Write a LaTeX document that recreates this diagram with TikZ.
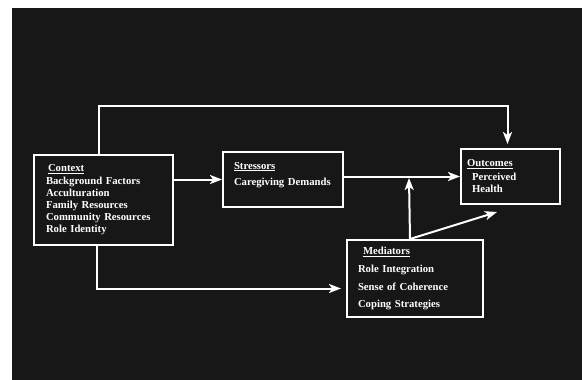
\documentclass[tikz,border=0pt]{standalone}
\usepackage{fontspec}
\setmainfont{Liberation Serif}
\usepackage{tikz}
\usetikzlibrary{arrows.meta,positioning}

\begin{document}
\begin{tikzpicture}[
  x=1pt, y=-1pt,
  box/.style={rectangle, draw=white, line width=2pt, anchor=north west, align=left,
    text=white, inner xsep=0pt, inner ysep=0pt, font=\fontsize{10.7}{12}\selectfont\bfseries},
  arr/.style={-{Stealth[length=12pt, width=9pt, inset=3pt]}, draw=white, line width=2pt},
  loop/.style={arr, rounded corners=0pt}
]
\useasboundingbox (0,0) rectangle (582,380);
\fill[white] (0,0) rectangle (582,380);
\fill[black!91] (12,8) rectangle (582,380);

% boxes
\node[box, text width=115pt, minimum height=90pt, inner xsep=12pt] at (33,154) (ctx)
  {\hspace*{2pt}\underline{Context}\\[1pt]
   Background Factors\\ Acculturation\\ Family Resources\\ Community Resources\\ Role Identity};
\node[box, text width=98pt, minimum height=55pt, inner xsep=11pt] at (222,151) (str)
  {\underline{Stressors}\\[4pt] Caregiving Demands\\ \mbox{}};
\node[box, text width=87pt, minimum height=55pt, inner xsep=6pt] at (460,148) (out)
  {\underline{Outcomes}\\[2pt] \hspace*{5pt}Perceived\\ \hspace*{5pt}Health};
\node[box, text width=114pt, minimum height=77pt, inner xsep=11pt] at (346,239) (med)
  {\hspace*{5pt}\underline{Mediators}\\[6pt] Role Integration\\[5.5pt] Sense of Coherence\\[5.5pt] Coping Strategies};

% free ends
\coordinate (medtop) at ([xshift=-5pt]med.north);
\coordinate (join) at (409,178);
\coordinate (diagtip) at (497,212);

% connectors
\draw[arr] (ctx.east |- str.west) -- (str.west);
\draw[arr] (str.east |- out.west) -- (out.west);
\draw[arr] (medtop) -- (join);
\draw[arr] (medtop) -- (diagtip);
\draw[loop, shorten >=4pt] ([xshift=-5pt]ctx.north) -- ++(0,-48) -| ([xshift=-3pt]out.north);
\draw[loop, shorten >=5pt] ([xshift=-7pt]ctx.south) |- ([yshift=-10pt]med.west);
\end{tikzpicture}
\end{document}
